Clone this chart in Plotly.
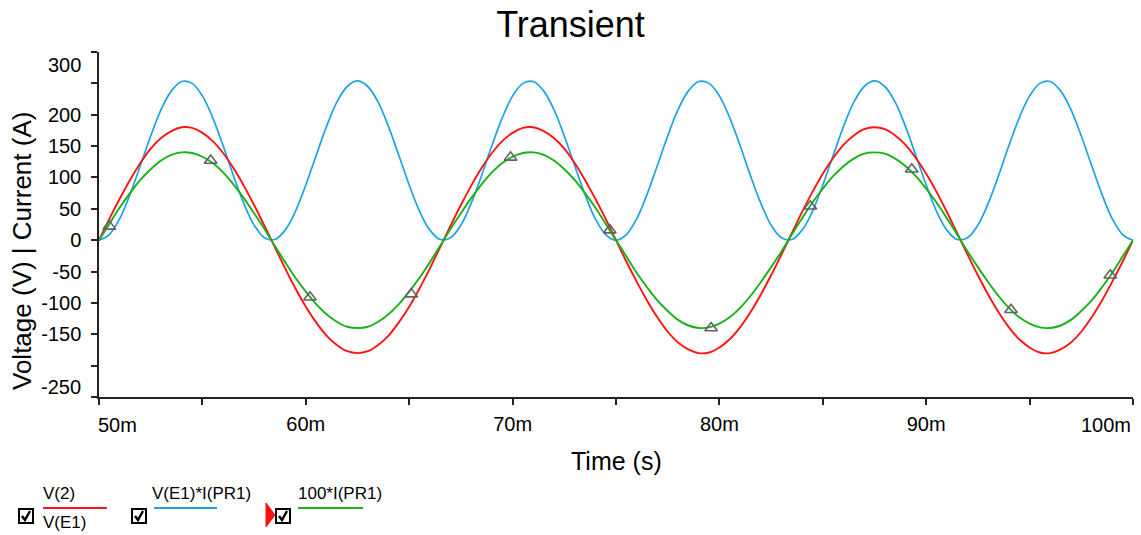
import plotly.graph_objects as go

# ---------------- data ----------------
time_ms = [
    50.0, 50.5, 51.0, 51.5, 52.0, 52.5, 53.0, 53.5, 54.0, 54.5,
    55.0, 55.5, 56.0, 56.5, 57.0, 57.5, 58.0, 58.5, 59.0, 59.5,
    60.0, 60.5, 61.0, 61.5, 62.0, 62.5, 63.0, 63.5, 64.0, 64.5,
    65.0, 65.5, 66.0, 66.5, 67.0, 67.5, 68.0, 68.5, 69.0, 69.5,
    70.0, 70.5, 71.0, 71.5, 72.0, 72.5, 73.0, 73.5, 74.0, 74.5,
    75.0, 75.5, 76.0, 76.5, 77.0, 77.5, 78.0, 78.5, 79.0, 79.5,
    80.0, 80.5, 81.0, 81.5, 82.0, 82.5, 83.0, 83.5, 84.0, 84.5,
    85.0, 85.5, 86.0, 86.5, 87.0, 87.5, 88.0, 88.5, 89.0, 89.5,
    90.0, 90.5, 91.0, 91.5, 92.0, 92.5, 93.0, 93.5, 94.0, 94.5,
    95.0, 95.5, 96.0, 96.5, 97.0, 97.5, 98.0, 98.5, 99.0, 99.5,
    100.0,
]

v2_volts = [
    0, 34, 66, 96, 123, 146, 163, 174, 180, 179,
    171, 158, 139, 115, 87, 56, 23, -11, -45, -77,
    -106, -131, -152, -167, -177, -180, -177, -167, -152, -131,
    -106, -77, -45, -11, 23, 56, 87, 115, 139, 158,
    171, 179, 180, 174, 163, 146, 123, 96, 66, 34,
    0, -34, -66, -96, -123, -146, -163, -174, -180, -179,
    -171, -158, -139, -115, -87, -56, -23, 11, 45, 77,
    106, 131, 152, 167, 177, 180, 177, 167, 152, 131,
    106, 77, 45, 11, -23, -56, -87, -115, -139, -158,
    -171, -179, -180, -174, -163, -146, -123, -96, -66, -34,
    0,
]

power_e1 = [
    0, 9, 34, 73, 119, 166, 208, 238, 253, 250,
    230, 195, 151, 103, 59, 24, 4, 1, 16, 46,
    88, 135, 181, 220, 245, 254, 245, 220, 181, 135,
    88, 46, 16, 1, 4, 24, 59, 103, 151, 195,
    230, 250, 253, 238, 208, 166, 119, 73, 34, 9,
    0, 9, 34, 73, 119, 166, 208, 238, 253, 250,
    230, 195, 151, 103, 59, 24, 4, 1, 16, 46,
    88, 135, 181, 220, 245, 254, 245, 220, 181, 135,
    88, 46, 16, 1, 4, 24, 59, 103, 151, 195,
    230, 250, 253, 238, 208, 166, 119, 73, 34, 9,
    0,
]

current_x100 = [
    0, 26, 52, 75, 96, 113, 127, 136, 140, 139,
    133, 123, 108, 89, 67, 43, 18, -9, -35, -60,
    -82, -102, -118, -130, -138, -140, -138, -130, -118, -102,
    -82, -60, -35, -9, 18, 43, 67, 89, 108, 123,
    133, 139, 140, 136, 127, 113, 96, 75, 52, 26,
    0, -26, -52, -75, -96, -113, -127, -136, -140, -139,
    -133, -123, -108, -89, -67, -43, -18, 9, 35, 60,
    82, 102, 118, 130, 138, 140, 138, 130, 118, 102,
    82, 60, 35, 9, -18, -43, -67, -89, -108, -123,
    -133, -139, -140, -136, -127, -113, -96, -75, -52, -26,
    0,
]

marker_t = [50.5, 55.4, 60.2, 65.1, 69.9, 74.7, 79.6, 84.4, 89.3, 94.1, 98.9]
marker_v = [22, 127, -91, -86, 132, 16, -140, 54, 113, -111, -56]

x_tick_vals = [50, 55, 60, 65, 70, 75, 80, 85, 90, 95, 100]
x_tick_text = ["", "", "60m", "", "70m", "", "80m", "", "90m", "", ""]
y_tick_vals = [-250, -200, -150, -100, -50, 0, 50, 100, 150, 200, 250, 300]
y_tick_text = ["", "", "-150", "-100", "-50", "0", "50", "100", "150", "200", "", ""]

series_names = ["V(2)", "V(E1)*I(PR1)", "100*I(PR1)"]

# ---------------- styling ----------------
FONT = "Liberation Sans, Arial, sans-serif"
RED, BLUE, GREEN = "#FF1414", "#1CA3E6", "#17B217"
TICK_SIZE = 20
W, H = 1141, 535
L, R, T, B = 99, 8, 52, 138
PW, PH = W - L - R, H - T - B


def px(x):
    return (x - L) / PW


def py(y):
    return (H - B - y) / PH


fig = go.Figure()
fig.add_trace(go.Scatter(x=time_ms, y=power_e1, mode="lines", name=series_names[1],
                         line=dict(color=BLUE, width=1.7, shape="spline", smoothing=1.0)))
fig.add_trace(go.Scatter(x=time_ms, y=v2_volts, mode="lines", name=series_names[0],
                         line=dict(color=RED, width=1.9, shape="spline", smoothing=1.0)))
fig.add_trace(go.Scatter(x=time_ms, y=current_x100, mode="lines", name=series_names[2],
                         line=dict(color=GREEN, width=1.9, shape="spline", smoothing=1.0)))
fig.add_trace(go.Scatter(x=marker_t, y=marker_v, mode="markers", showlegend=False,
                         marker=dict(symbol="triangle-up-open", size=11, color="#626262",
                                     line=dict(width=1.6, color="#626262"))))

tick_font = dict(family=FONT, size=TICK_SIZE, color="#000")
annotations = []
# special tick labels (offset as in reference)
annotations.append(dict(x=0, xref="paper", y=279, yref="y", text="300", showarrow=False,
                        xanchor="right", yanchor="middle", xshift=-16, font=tick_font))
annotations.append(dict(x=0, xref="paper", y=-234, yref="y", text="-250", showarrow=False,
                        xanchor="right", yanchor="middle", xshift=-16, font=tick_font))
annotations.append(dict(x=50, xref="x", y=py(425), yref="paper", text="50m", showarrow=False,
                        xanchor="left", yanchor="middle", xshift=-3, font=tick_font))
annotations.append(dict(x=100, xref="x", y=py(425), yref="paper", text="100m", showarrow=False,
                        xanchor="right", yanchor="middle", xshift=0, font=tick_font))
# axis titles
annotations.append(dict(x=0.5, xref="paper", y=py(461), yref="paper", text="Time (s)",
                        showarrow=False, xanchor="center", yanchor="middle",
                        font=dict(family=FONT, size=25, color="#000")))
annotations.append(dict(x=px(22), xref="paper", y=py(251), yref="paper",
                        text="Voltage (V) | Current (A)", textangle=-90,
                        showarrow=False, xanchor="center", yanchor="middle",
                        font=dict(family=FONT, size=26, color="#000")))

# legend texts
leg_font = dict(family=FONT, size=17, color="#000")
for txt, x0, y0 in [("V(2)", 41, 493), ("V(E1)", 41, 522),
                    ("V(E1)*I(PR1)", 150, 493), ("100*I(PR1)", 296, 493)]:
    annotations.append(dict(x=px(x0), xref="paper", y=py(y0), yref="paper", text=txt,
                            showarrow=False, xanchor="left", yanchor="middle", font=leg_font))

shapes = []
for x0, x1, col in [(43, 107, RED), (154, 217, BLUE), (298, 363, GREEN)]:
    shapes.append(dict(type="line", xref="paper", yref="paper", x0=px(x0), x1=px(x1),
                       y0=py(508), y1=py(508), line=dict(color=col, width=2)))
for cx in [19, 132, 276]:
    shapes.append(dict(type="rect", xref="paper", yref="paper", x0=px(cx), x1=px(cx + 14),
                       y0=py(523), y1=py(509), line=dict(color="#000", width=2),
                       fillcolor="white"))
    path = "M {:.5f},{:.5f} L {:.5f},{:.5f} L {:.5f},{:.5f}".format(
        px(cx + 3), py(516), px(cx + 6), py(520), px(cx + 11), py(511))
    shapes.append(dict(type="path", xref="paper", yref="paper", path=path,
                       line=dict(color="#000", width=2.4)))
tri = "M {:.5f},{:.5f} L {:.5f},{:.5f} L {:.5f},{:.5f} Z".format(
    px(266), py(503), px(275), py(515), px(266), py(527))
shapes.append(dict(type="path", xref="paper", yref="paper", path=tri,
                   fillcolor="#FF1010", line=dict(color="#FF1010", width=1)))

fig.update_layout(
    width=W, height=H,
    margin=dict(l=L, r=R, t=T, b=B),
    paper_bgcolor="white", plot_bgcolor="white",
    showlegend=False,
    title=dict(text="Transient", x=0.5, xref="container", xanchor="center",
               y=1 - 24 / H, yref="container", yanchor="middle",
               font=dict(family=FONT, size=36, color="#000")),
    font=dict(family=FONT, size=TICK_SIZE, color="#000"),
    xaxis=dict(range=[50, 100], tickmode="array", tickvals=x_tick_vals, ticktext=x_tick_text,
               showgrid=False, zeroline=False, showline=True, linecolor="#222", linewidth=1.5,
               ticks="outside", ticklen=6, tickcolor="#222", tickwidth=1.5,
               ticklabelstandoff=2, tickfont=tick_font),
    yaxis=dict(range=[-250, 300], tickmode="array", tickvals=y_tick_vals, ticktext=y_tick_text,
               showgrid=False, zeroline=False, showline=True, linecolor="#222", linewidth=1.5,
               ticks="outside", ticklen=6, tickcolor="#222", tickwidth=1.5,
               ticklabelstandoff=6, tickfont=tick_font),
    annotations=annotations,
    shapes=shapes,
)

fig.write_html("out.html", config={"displayModeBar": False},
               post_script="document.body.style.margin='0';document.body.style.overflow='hidden';")
